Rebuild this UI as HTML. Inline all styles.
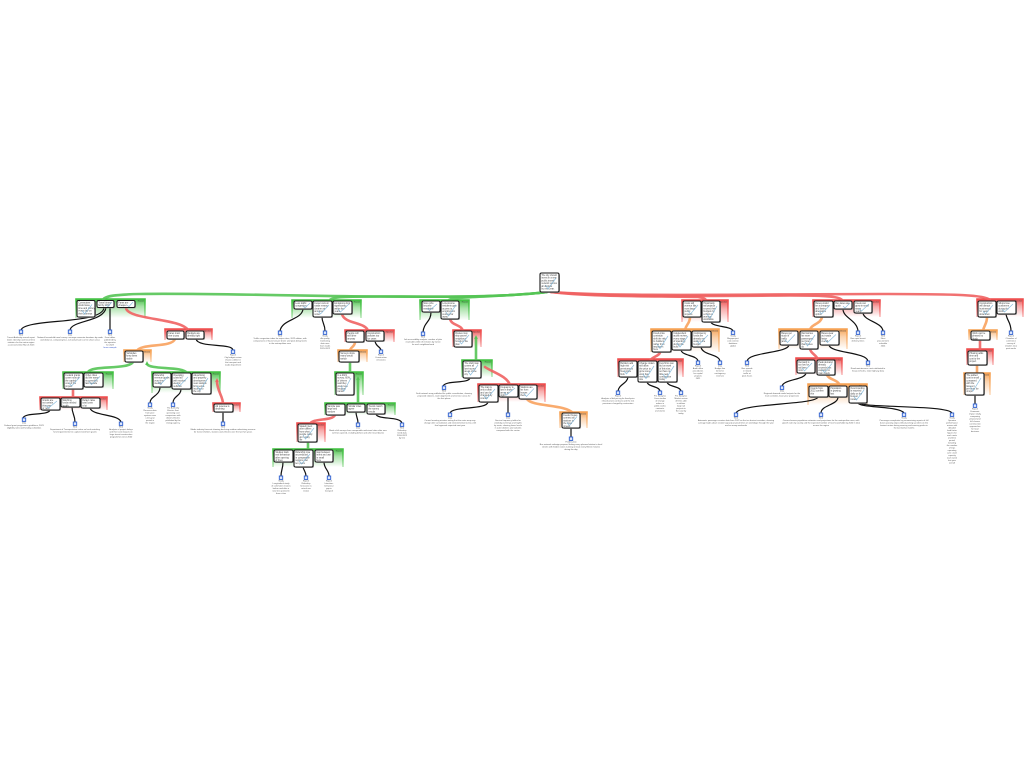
<!DOCTYPE html>
<html><head><meta charset="utf-8"><style>
html,body{margin:0;padding:0;background:#fff;width:1024px;height:768px;overflow:hidden}
svg{display:block}
.s{fill:#9a9a9a}
.b{fill:#fff;stroke:#1a1a1a;stroke-width:1.1}
.t{font-family:"Liberation Sans",sans-serif;font-size:2.3px;fill:#444}
.k{fill:none;stroke:#7ab4d8;stroke-width:.7;opacity:.85}
.gl{font-family:"Liberation Sans",sans-serif;font-size:1.8px;fill:#333;text-anchor:end}
.cg{fill:none;stroke:#55c455;stroke-width:2.6;stroke-linecap:round;opacity:.9}
.cr{fill:none;stroke:#f06262;stroke-width:2.6;stroke-linecap:round;opacity:.9}
.co{fill:none;stroke:#f8a25e;stroke-width:2.6;stroke-linecap:round;opacity:.9}
.ck{fill:none;stroke:#111;stroke-width:1.2;stroke-linecap:round}
.ic{fill:#dfe8fb;stroke:#2d5fcf;stroke-width:.9}
.lt{font-family:"Liberation Sans",sans-serif;font-size:2.1px;fill:#555;text-anchor:middle}
.ln{fill:#3355cc}
</style></head><body>
<svg width="1024" height="768" viewBox="0 0 1024 768" xmlns="http://www.w3.org/2000/svg">
<defs>
<linearGradient id="gg" x1="0" y1="0" x2="0" y2="1"><stop offset="0" stop-color="#3fbf3f" stop-opacity=".95"/><stop offset=".4" stop-color="#3fbf3f" stop-opacity=".45"/><stop offset="1" stop-color="#3fbf3f" stop-opacity="0"/></linearGradient>
<linearGradient id="gr" x1="0" y1="0" x2="0" y2="1"><stop offset="0" stop-color="#ee4a4a" stop-opacity=".95"/><stop offset=".4" stop-color="#ee4a4a" stop-opacity=".45"/><stop offset="1" stop-color="#ee4a4a" stop-opacity="0"/></linearGradient>
<linearGradient id="go" x1="0" y1="0" x2="0" y2="1"><stop offset="0" stop-color="#f6a050" stop-opacity=".95"/><stop offset=".4" stop-color="#f6a050" stop-opacity=".45"/><stop offset="1" stop-color="#f6a050" stop-opacity="0"/></linearGradient>
<linearGradient id="sg" x1="0" y1="0" x2="0" y2="1"><stop offset="0" stop-color="#3fbf3f"/><stop offset="1" stop-color="#3fbf3f" stop-opacity=".35"/></linearGradient>
<linearGradient id="sr" x1="0" y1="0" x2="0" y2="1"><stop offset="0" stop-color="#ee4a4a"/><stop offset="1" stop-color="#ee4a4a" stop-opacity=".35"/></linearGradient>
<linearGradient id="so" x1="0" y1="0" x2="0" y2="1"><stop offset="0" stop-color="#f6a050"/><stop offset="1" stop-color="#f6a050" stop-opacity=".35"/></linearGradient>
</defs>

<!-- ===== GROUP BACKGROUNDS ===== -->
<g>
<rect x="76" y="299" width="69" height="19" fill="url(#gg)"/><path d="M76,318V299H145V318" fill="none" stroke="url(#sg)" stroke-width="1.6"/><text class="gl" x="144" y="301.5">Reason</text>
<rect x="165" y="329" width="47" height="11" fill="url(#gr)"/><path d="M165,340V329H212V340" fill="none" stroke="url(#sr)" stroke-width="1.6"/><text class="gl" x="211" y="331.5">Objection</text>
<rect x="124" y="350" width="27" height="12" fill="url(#go)"/><path d="M124,362V350H151V362" fill="none" stroke="url(#so)" stroke-width="1.6"/><text class="gl" x="150" y="352.5">Rebuttal</text>
<rect x="63" y="372" width="50" height="17" fill="url(#gg)"/><path d="M63,389V372H113V389" fill="none" stroke="url(#sg)" stroke-width="1.6"/><text class="gl" x="112" y="374.5">Reason</text>
<rect x="152" y="372" width="68" height="21" fill="url(#gg)"/><path d="M152,393V372H220V393" fill="none" stroke="url(#sg)" stroke-width="1.6"/><text class="gl" x="219" y="374.5">Reason</text>
<rect x="40" y="397" width="67" height="13" fill="url(#gr)"/><path d="M40,410V397H107V410" fill="none" stroke="url(#sr)" stroke-width="1.6"/><text class="gl" x="106" y="399.5">Objection</text>
<rect x="213" y="403" width="27" height="9" fill="url(#gr)"/><path d="M213,412V403H240V412" fill="none" stroke="url(#sr)" stroke-width="1.6"/><text class="gl" x="239" y="405.5">Objection</text>
<rect x="292" y="300" width="69" height="18" fill="url(#gg)"/><path d="M292,318V300H361V318" fill="none" stroke="url(#sg)" stroke-width="1.6"/><text class="gl" x="360" y="302.5">Reason</text>
<rect x="345" y="330" width="49" height="12" fill="url(#gr)"/><path d="M345,342V330H394V342" fill="none" stroke="url(#sr)" stroke-width="1.6"/><text class="gl" x="393" y="332.5">Objection</text>
<rect x="338" y="350" width="29" height="12" fill="url(#go)"/><path d="M338,362V350H367V362" fill="none" stroke="url(#so)" stroke-width="1.6"/><text class="gl" x="366" y="352.5">Rebuttal</text>
<rect x="335" y="372" width="28" height="23" fill="url(#gg)"/><path d="M335,395V372H363V395" fill="none" stroke="url(#sg)" stroke-width="1.6"/><text class="gl" x="362" y="374.5">Reason</text>
<rect x="325" y="403" width="70" height="12" fill="url(#gg)"/><path d="M325,415V403H395V415" fill="none" stroke="url(#sg)" stroke-width="1.6"/><text class="gl" x="394" y="405.5">Reason</text>
<rect x="297" y="423" width="28" height="19" fill="url(#gr)"/><path d="M297,442V423H325V442" fill="none" stroke="url(#sr)" stroke-width="1.6"/><text class="gl" x="324" y="425.5">Objection</text>
<rect x="273" y="449" width="70" height="18" fill="url(#gg)"/><path d="M273,467V449H343V467" fill="none" stroke="url(#sg)" stroke-width="1.6"/><text class="gl" x="342" y="451.5">Reason</text>
<rect x="420" y="300" width="49" height="20" fill="url(#gg)"/><path d="M420,320V300H469V320" fill="none" stroke="url(#sg)" stroke-width="1.6"/><text class="gl" x="468" y="302.5">Reason</text>
<rect x="453" y="330" width="28" height="17" fill="url(#gr)"/><path d="M453,347V330H481V347" fill="none" stroke="url(#sr)" stroke-width="1.6"/><text class="gl" x="480" y="332.5">Objection</text>
<rect x="462" y="360" width="30" height="17" fill="url(#gg)"/><path d="M462,377V360H492V377" fill="none" stroke="url(#sg)" stroke-width="1.6"/><text class="gl" x="491" y="362.5">Reason</text>
<rect x="478" y="384" width="67" height="18" fill="url(#gr)"/><path d="M478,402V384H545V402" fill="none" stroke="url(#sr)" stroke-width="1.6"/><text class="gl" x="544" y="386.5">Objection</text>
<rect x="560" y="412" width="27" height="16" fill="url(#go)"/><path d="M560,428V412H587V428" fill="none" stroke="url(#so)" stroke-width="1.6"/><text class="gl" x="586" y="414.5">Rebuttal</text>
<rect x="682" y="300" width="46" height="22" fill="url(#gr)"/><path d="M682,322V300H728V322" fill="none" stroke="url(#sr)" stroke-width="1.6"/><text class="gl" x="727" y="302.5">Objection</text>
<rect x="651" y="329" width="68" height="23" fill="url(#go)"/><path d="M651,352V329H719V352" fill="none" stroke="url(#so)" stroke-width="1.6"/><text class="gl" x="718" y="331.5">Rebuttal</text>
<rect x="618" y="359" width="65" height="18" fill="url(#gr)"/><path d="M618,377V359H683V377" fill="none" stroke="url(#sr)" stroke-width="1.6"/><text class="gl" x="682" y="361.5">Objection</text>
<rect x="813" y="300" width="67" height="17" fill="url(#gr)"/><path d="M813,317V300H880V317" fill="none" stroke="url(#sr)" stroke-width="1.6"/><text class="gl" x="879" y="302.5">Objection</text>
<rect x="779" y="329" width="68" height="20" fill="url(#go)"/><path d="M779,349V329H847V349" fill="none" stroke="url(#so)" stroke-width="1.6"/><text class="gl" x="846" y="331.5">Rebuttal</text>
<rect x="796" y="358" width="46" height="17" fill="url(#gr)"/><path d="M796,375V358H842V375" fill="none" stroke="url(#sr)" stroke-width="1.6"/><text class="gl" x="841" y="360.5">Objection</text>
<rect x="808" y="384" width="59" height="21" fill="url(#go)"/><path d="M808,405V384H867V405" fill="none" stroke="url(#so)" stroke-width="1.6"/><text class="gl" x="866" y="386.5">Rebuttal</text>
<rect x="977" y="299" width="46" height="18" fill="url(#gr)"/><path d="M977,317V299H1023V317" fill="none" stroke="url(#sr)" stroke-width="1.6"/><text class="gl" x="1022" y="301.5">Objection</text>
<rect x="969" y="330" width="28" height="10" fill="url(#go)"/><path d="M969,340V330H997V340" fill="none" stroke="url(#so)" stroke-width="1.6"/><text class="gl" x="996" y="332.5">Rebuttal</text>
<rect x="967" y="349" width="26" height="16" fill="url(#gr)"/><path d="M967,365V349H993V365" fill="none" stroke="url(#sr)" stroke-width="1.6"/><text class="gl" x="992" y="351.5">Objection</text>
<rect x="964" y="373" width="26" height="22" fill="url(#go)"/><path d="M964,395V373H990V395" fill="none" stroke="url(#so)" stroke-width="1.6"/><text class="gl" x="989" y="375.5">Rebuttal</text>
</g>

<!-- ===== COLOURED CONNECTORS ===== -->
<g>
<path class="cg" d="M547,292 C500,298 420,296.5 380,296.5 C300,296 200,293 140,294 C115,294.5 104,296 103,300"/>
<path class="cg" d="M547,292 C500,298 420,296.5 380,296.5 C345,296.5 332,297 330,300"/>
<path class="cg" d="M547,292 C510,297 455,296 449,300"/>
<path class="cr" d="M551,292 C590,297 660,296 698,297 C704,298 705,299 706,300"/>
<path class="cr" d="M551,292 C600,297 700,296 790,295.5 C830,295.5 840,297 842,300"/>
<path class="cr" d="M551,292 C620,297 760,294 880,294 C960,294 985,295 990,300"/>

<path class="cr" d="M126,308 C128,320 180,318 188,330"/>
<path class="co" d="M175,339 C172,348 140,343 137,351"/>
<path class="cg" d="M133,362 C128,370 92,365 88,372"/>
<path class="cg" d="M147,364 C150,370 183,366 187,373"/>
<polygon points="147,361 145.2,365 148.8,365" fill="#55c455"/>
<path class="cr" d="M73,389 V398"/>
<path class="cr" d="M217,381 C217,391 223,396 223,404"/>
<polygon points="217,378 215.2,382 218.8,382" fill="#f06262"/>
<path class="cr" d="M342,314 C344,324 366,322 368,331"/>
<path class="co" d="M355,342 C355,347 350,347 350,351"/>
<path class="cg" d="M350,362 V373"/>
<path class="cg" d="M358,379 V404"/>
<polygon points="358,376 356.2,380 359.8,380" fill="#55c455"/>
<path class="cr" d="M335,415 C333,421 312,418 310,424"/>
<path class="cg" d="M308,442 V450"/>
<path class="cr" d="M450,319 C452,326 461,324 463,331"/>
<path class="cg" d="M476,338 V361"/>
<polygon points="476,335 474.2,339 477.8,339" fill="#55c455"/>
<path class="cr" d="M485,367 C492,372 507,376 510,385"/>
<path class="co" d="M527,399 C532,407 565,404 573,413"/>
<path class="co" d="M690,317 C690,324 686,324 685,330"/>
<path class="cr" d="M660,352 C660,356 651,357 650,361"/>
<path class="co" d="M822,317 C821,324 811,324 810,330"/>
<path class="cr" d="M810,349 C811,354 817,355 818,360"/>
<path class="co" d="M827,375 C829,380 838,379 840,386"/>
<path class="co" d="M987,317 C987,324 984,325 983,331"/>
<path class="cr" d="M980,340 V351"/>
<path class="co" d="M977,365 V373"/>
</g>

<!-- ===== BLACK CONNECTORS ===== -->
<g>
<path class="ck" d="M104,307.5 C103,325 25,318 21,330"/>
<path class="ck" d="M106,307.5 C104,322 72,320 70,330"/>
<path class="ck" d="M110,307.5 V330"/>
<path class="ck" d="M196,339 C198,348 232,343 233,350"/>
<path class="ck" d="M50,410 C48,416 25,412 23,418"/>
<path class="ck" d="M72,407 C72,414 75,415 75,422"/>
<path class="ck" d="M90,408 C92,416 119,414 121,422"/>
<path class="ck" d="M160,387 C160,396 150,396 150,403"/>
<path class="ck" d="M181,389 C181,396 173,396 173,403"/>
<path class="ck" d="M223,412 V422"/>
<path class="ck" d="M303,309 C302,320 282,319 280,331"/>
<path class="ck" d="M322,317 C322,323 325,324 325,331"/>
<path class="ck" d="M375,341 C376,347 380,346 381,350"/>
<path class="ck" d="M356,412 C356,417 358,418 358,423"/>
<path class="ck" d="M376,414 C377,420 400,416 402,423"/>
<path class="ck" d="M283,462 C283,469 281,470 281,476"/>
<path class="ck" d="M303,467 C304,471 306,472 306,476"/>
<path class="ck" d="M324,462 C324,469 329,470 329,476"/>
<path class="ck" d="M431,312 C431,322 424,322 423,332"/>
<path class="ck" d="M470,378 C468,384 446,380 443,386"/>
<path class="ck" d="M488,402 C487,410 452,406 450,413"/>
<path class="ck" d="M508,397 V413"/>
<path class="ck" d="M571,428 V437"/>
<path class="ck" d="M711,322 C712,327 732,326 733,331"/>
<path class="ck" d="M681,350 C682,356 697,355 698,361"/>
<path class="ck" d="M701,347 C702,355 719,354 720,361"/>
<path class="ck" d="M628,377 C627,384 619,384 618,391"/>
<path class="ck" d="M647,382 C648,387 659,386 660,391"/>
<path class="ck" d="M667,382 C668,387 680,386 681,391"/>
<path class="ck" d="M843,309 C843,318 857,320 858,331"/>
<path class="ck" d="M863,313 C864,321 882,322 883,331"/>
<path class="ck" d="M789,345 C788,353 749,352 747,361"/>
<path class="ck" d="M829,345 C830,353 866,352 868,361"/>
<path class="ck" d="M806,373 C805,380 784,379 782,386"/>
<path class="ck" d="M818,397 C816,405 740,403 736,413"/>
<path class="ck" d="M838,397 C838,405 821,405 821,413"/>
<path class="ck" d="M858,403 C860,408 900,406 904,413"/>
<path class="ck" d="M860,403 C865,408 948,405 952,413"/>
<path class="ck" d="M1006,314 C1007,321 1011,322 1011,331"/>
<path class="ck" d="M975,395 V404"/>
</g>

<!-- ===== BOXES ===== -->
<g>
<g transform="translate(540,273)"><rect class="s" x=".9" y=".9" width="19" height="19" rx="1.5"/><rect class="b" width="19" height="19" rx="1.5"/><text class="t"><tspan x="1.4" y="3">The city should</tspan><tspan x="1.4" dy="2.7">invest in a new</tspan><tspan x="1.4" dy="2.7">public transit</tspan><tspan x="1.4" dy="2.7">network across</tspan><tspan x="1.4" dy="2.7">all districts</tspan><tspan x="1.4" dy="2.7">by next year.</tspan></text><path class="k" d="M5.5,12 8,16 16,5"/></g>

<g transform="translate(77,300.5)"><rect class="s" x=".9" y=".9" width="18" height="16.5" rx="1.5"/><rect class="b" width="18" height="16.5" rx="1.5"/><text class="t"><tspan x="1.4" y="3">Commuters</tspan><tspan x="1.4" dy="2.7">would save</tspan><tspan x="1.4" dy="2.7">time and money</tspan><tspan x="1.4" dy="2.7">every day on</tspan><tspan x="1.4" dy="2.7">their journeys</tspan></text><path class="k" d="M5,10 7.5,13.5 15,4"/></g>
<g transform="translate(97,300.5)"><rect class="s" x=".9" y=".9" width="17" height="7" rx="1.5"/><rect class="b" width="17" height="7" rx="1.5"/><text class="t"><tspan x="1.4" y="3">Travel times</tspan><tspan x="1.4" dy="2.7">fall by 20%</tspan></text><path class="k" d="M9,4.5 11,6 15,1.5"/></g>
<g transform="translate(117,300.5)"><rect class="s" x=".9" y=".9" width="18" height="7" rx="1.5"/><rect class="b" width="18" height="7" rx="1.5"/><text class="t"><tspan x="1.4" y="3">Fares are</tspan><tspan x="1.4" dy="2.7">cheaper</tspan></text><path class="k" d="M10,4.5 12,6 16,1.5"/></g>

<g transform="translate(167,331)"><rect class="s" x=".9" y=".9" width="17" height="8" rx="1.5"/><rect class="b" width="17" height="8" rx="1.5"/><text class="t"><tspan x="1.4" y="3">Fares must</tspan><tspan x="1.4" dy="2.7">rise to pay</tspan></text></g>
<g transform="translate(186,331)"><rect class="s" x=".9" y=".9" width="18" height="8" rx="1.5"/><rect class="b" width="18" height="8" rx="1.5"/><text class="t"><tspan x="1.4" y="3">Budgets are</tspan><tspan x="1.4" dy="2.7">already tight</tspan></text></g>
<g transform="translate(125,351)"><rect class="s" x=".9" y=".9" width="18" height="11" rx="1.5"/><rect class="b" width="18" height="11" rx="1.5"/><text class="t"><tspan x="1.4" y="3">Subsidies</tspan><tspan x="1.4" dy="2.7">keep fares</tspan><tspan x="1.4" dy="2.7">stable</tspan></text></g>

<g transform="translate(64,373)"><rect class="s" x=".9" y=".9" width="19" height="16" rx="1.5"/><rect class="b" width="19" height="16" rx="1.5"/><text class="t"><tspan x="1.4" y="3">Federal grants</tspan><tspan x="1.4" dy="2.7">cover most of</tspan><tspan x="1.4" dy="2.7">the capital</tspan><tspan x="1.4" dy="2.7">cost of the</tspan><tspan x="1.4" dy="2.7">project</tspan></text><path class="k" d="M5,10 7.5,13 16,4"/></g>
<g transform="translate(84,373)"><rect class="s" x=".9" y=".9" width="19" height="14" rx="1.5"/><rect class="b" width="19" height="14" rx="1.5"/><text class="t"><tspan x="1.4" y="3">Other cities</tspan><tspan x="1.4" dy="2.7">did the same</tspan><tspan x="1.4" dy="2.7">successfully</tspan><tspan x="1.4" dy="2.7">last decade</tspan></text><path class="k" d="M5,8.5 7.5,11.5 16,3.5"/></g>

<g transform="translate(153,373)"><rect class="s" x=".9" y=".9" width="18" height="14" rx="1.5"/><rect class="b" width="18" height="14" rx="1.5"/><text class="t"><tspan x="1.4" y="3">Ridership</tspan><tspan x="1.4" dy="2.7">revenue grows</tspan><tspan x="1.4" dy="2.7">over time</tspan><tspan x="1.4" dy="2.7">steadily</tspan></text><path class="k" d="M5,8.5 7.5,11.5 15,3.5"/></g>
<g transform="translate(172,373)"><rect class="s" x=".9" y=".9" width="19" height="16" rx="1.5"/><rect class="b" width="19" height="16" rx="1.5"/><text class="t"><tspan x="1.4" y="3">Operating</tspan><tspan x="1.4" dy="2.7">costs fall</tspan><tspan x="1.4" dy="2.7">with modern</tspan><tspan x="1.4" dy="2.7">electric</tspan><tspan x="1.4" dy="2.7">vehicles</tspan></text><path class="k" d="M5,10 7.5,13 16,4"/></g>
<g transform="translate(192,373)"><rect class="s" x=".9" y=".9" width="19" height="21" rx="1.5"/><rect class="b" width="19" height="21" rx="1.5"/><text class="t"><tspan x="1.4" y="3">Advertising</tspan><tspan x="1.4" dy="2.7">and property</tspan><tspan x="1.4" dy="2.7">development</tspan><tspan x="1.4" dy="2.7">near stations</tspan><tspan x="1.4" dy="2.7">bring extra</tspan><tspan x="1.4" dy="2.7">income to</tspan><tspan x="1.4" dy="2.7">the city</tspan></text><path class="k" d="M5,13 8,17.5 16,5"/></g>

<g transform="translate(41,398)"><rect class="s" x=".9" y=".9" width="19" height="12" rx="1.5"/><rect class="b" width="19" height="12" rx="1.5"/><text class="t"><tspan x="1.4" y="3">Grants are</tspan><tspan x="1.4" dy="2.7">not certain</tspan><tspan x="1.4" dy="2.7">this year</tspan><tspan x="1.4" dy="2.7">or next</tspan></text><path class="k" d="M5,7.5 7.5,10 16,3"/></g>
<g transform="translate(61,398)"><rect class="s" x=".9" y=".9" width="19" height="9" rx="1.5"/><rect class="b" width="19" height="9" rx="1.5"/><text class="t"><tspan x="1.4" y="3">Matching</tspan><tspan x="1.4" dy="2.7">funds needed</tspan><tspan x="1.4" dy="2.7">locally</tspan></text></g>
<g transform="translate(81,398)"><rect class="s" x=".9" y=".9" width="19" height="10" rx="1.5"/><rect class="b" width="19" height="10" rx="1.5"/><text class="t"><tspan x="1.4" y="3">Delays raise</tspan><tspan x="1.4" dy="2.7">total costs</tspan><tspan x="1.4" dy="2.7">a lot</tspan></text></g>
<g transform="translate(214,404)"><rect class="s" x=".9" y=".9" width="19" height="8" rx="1.5"/><rect class="b" width="19" height="8" rx="1.5"/><text class="t"><tspan x="1.4" y="3">Ad revenue is</tspan><tspan x="1.4" dy="2.7">declining</tspan></text></g>

<g transform="translate(294,301)"><rect class="s" x=".9" y=".9" width="18" height="8" rx="1.5"/><rect class="b" width="18" height="8" rx="1.5"/><text class="t"><tspan x="1.4" y="3">Less traffic</tspan><tspan x="1.4" dy="2.7">congestion</tspan></text><path class="k" d="M9,5 11,7 16,2"/></g>
<g transform="translate(313,301)"><rect class="s" x=".9" y=".9" width="19" height="16" rx="1.5"/><rect class="b" width="19" height="16" rx="1.5"/><text class="t"><tspan x="1.4" y="3">Fewer cars on</tspan><tspan x="1.4" dy="2.7">roads means</tspan><tspan x="1.4" dy="2.7">cleaner air</tspan><tspan x="1.4" dy="2.7">and less</tspan><tspan x="1.4" dy="2.7">noise</tspan></text><path class="k" d="M5,10 7.5,13 16,4"/></g>
<g transform="translate(333,301)"><rect class="s" x=".9" y=".9" width="19" height="13" rx="1.5"/><rect class="b" width="19" height="13" rx="1.5"/><text class="t"><tspan x="1.4" y="3">Emissions drop</tspan><tspan x="1.4" dy="2.7">significantly</tspan><tspan x="1.4" dy="2.7">within five</tspan><tspan x="1.4" dy="2.7">years</tspan></text><path class="k" d="M5,8 7.5,11 16,3"/></g>
<g transform="translate(346,331)"><rect class="s" x=".9" y=".9" width="18" height="11" rx="1.5"/><rect class="b" width="18" height="11" rx="1.5"/><text class="t"><tspan x="1.4" y="3">People will</tspan><tspan x="1.4" dy="2.7">still drive</tspan><tspan x="1.4" dy="2.7">anyway</tspan></text></g>
<g transform="translate(366,331)"><rect class="s" x=".9" y=".9" width="18" height="10" rx="1.5"/><rect class="b" width="18" height="10" rx="1.5"/><text class="t"><tspan x="1.4" y="3">Construction</tspan><tspan x="1.4" dy="2.7">pollutes too</tspan><tspan x="1.4" dy="2.7">for years</tspan></text></g>
<g transform="translate(339,351)"><rect class="s" x=".9" y=".9" width="20" height="11" rx="1.5"/><rect class="b" width="20" height="11" rx="1.5"/><text class="t"><tspan x="1.4" y="3">Surveys show</tspan><tspan x="1.4" dy="2.7">many would</tspan><tspan x="1.4" dy="2.7">switch</tspan></text></g>
<g transform="translate(336,373)"><rect class="s" x=".9" y=".9" width="18" height="22" rx="1.5"/><rect class="b" width="18" height="22" rx="1.5"/><text class="t"><tspan x="1.4" y="3">In a 2021</tspan><tspan x="1.4" dy="2.7">survey, 60%</tspan><tspan x="1.4" dy="2.7">of drivers</tspan><tspan x="1.4" dy="2.7">said they</tspan><tspan x="1.4" dy="2.7">would use</tspan><tspan x="1.4" dy="2.7">frequent</tspan><tspan x="1.4" dy="2.7">transit</tspan></text><path class="k" d="M5,13 8,18 15,5"/></g>
<g transform="translate(326,404)"><rect class="s" x=".9" y=".9" width="19" height="11" rx="1.5"/><rect class="b" width="19" height="11" rx="1.5"/><text class="t"><tspan x="1.4" y="3">Sample was</tspan><tspan x="1.4" dy="2.7">large and</tspan><tspan x="1.4" dy="2.7">random</tspan></text></g>
<g transform="translate(347,404)"><rect class="s" x=".9" y=".9" width="18" height="8" rx="1.5"/><rect class="b" width="18" height="8" rx="1.5"/><text class="t"><tspan x="1.4" y="3">Similar cities</tspan><tspan x="1.4" dy="2.7">agree</tspan></text></g>
<g transform="translate(367,404)"><rect class="s" x=".9" y=".9" width="18" height="10" rx="1.5"/><rect class="b" width="18" height="10" rx="1.5"/><text class="t"><tspan x="1.4" y="3">Trends match</tspan><tspan x="1.4" dy="2.7">the survey</tspan><tspan x="1.4" dy="2.7">results</tspan></text></g>
<g transform="translate(298,424)"><rect class="s" x=".9" y=".9" width="19" height="18" rx="1.5"/><rect class="b" width="19" height="18" rx="1.5"/><text class="t"><tspan x="1.4" y="3">Stated intent</tspan><tspan x="1.4" dy="2.7">often differs</tspan><tspan x="1.4" dy="2.7">from what</tspan><tspan x="1.4" dy="2.7">people really</tspan><tspan x="1.4" dy="2.7">do in daily</tspan><tspan x="1.4" dy="2.7">life</tspan></text><path class="k" d="M5,11 7.5,15 16,4"/></g>
<g transform="translate(274,450)"><rect class="s" x=".9" y=".9" width="19" height="12" rx="1.5"/><rect class="b" width="19" height="12" rx="1.5"/><text class="t"><tspan x="1.4" y="3">Studies track</tspan><tspan x="1.4" dy="2.7">real behaviour</tspan><tspan x="1.4" dy="2.7">after opening</tspan><tspan x="1.4" dy="2.7">of lines</tspan></text></g>
<g transform="translate(294,450)"><rect class="s" x=".9" y=".9" width="19" height="17" rx="1.5"/><rect class="b" width="19" height="17" rx="1.5"/><text class="t"><tspan x="1.4" y="3">Ridership rose</tspan><tspan x="1.4" dy="2.7">as predicted</tspan><tspan x="1.4" dy="2.7">in comparable</tspan><tspan x="1.4" dy="2.7">regions over</tspan><tspan x="1.4" dy="2.7">ten years</tspan></text><path class="k" d="M5,10.5 7.5,14 16,4"/></g>
<g transform="translate(315,450)"><rect class="s" x=".9" y=".9" width="18" height="12" rx="1.5"/><rect class="b" width="18" height="12" rx="1.5"/><text class="t"><tspan x="1.4" y="3">Gap between</tspan><tspan x="1.4" dy="2.7">intent and use</tspan><tspan x="1.4" dy="2.7">is small</tspan><tspan x="1.4" dy="2.7">here</tspan></text></g>

<g transform="translate(422,301)"><rect class="s" x=".9" y=".9" width="18" height="11" rx="1.5"/><rect class="b" width="18" height="11" rx="1.5"/><text class="t"><tspan x="1.4" y="3">More jobs</tspan><tspan x="1.4" dy="2.7">become</tspan><tspan x="1.4" dy="2.7">reachable</tspan></text><path class="k" d="M5,7 7.5,9.5 15,3"/></g>
<g transform="translate(441,301)"><rect class="s" x=".9" y=".9" width="18" height="18" rx="1.5"/><rect class="b" width="18" height="18" rx="1.5"/><text class="t"><tspan x="1.4" y="3">Low-income</tspan><tspan x="1.4" dy="2.7">residents gain</tspan><tspan x="1.4" dy="2.7">access to</tspan><tspan x="1.4" dy="2.7">employment</tspan><tspan x="1.4" dy="2.7">centres far</tspan><tspan x="1.4" dy="2.7">away</tspan></text><path class="k" d="M5,11 7.5,15 15,4"/></g>
<g transform="translate(454,331)"><rect class="s" x=".9" y=".9" width="18" height="16" rx="1.5"/><rect class="b" width="18" height="16" rx="1.5"/><text class="t"><tspan x="1.4" y="3">Routes may</tspan><tspan x="1.4" dy="2.7">skip poorer</tspan><tspan x="1.4" dy="2.7">neighbour-</tspan><tspan x="1.4" dy="2.7">hoods in the</tspan><tspan x="1.4" dy="2.7">plan</tspan></text><path class="k" d="M5,10 7.5,13 15,4"/></g>
<g transform="translate(463,361)"><rect class="s" x=".9" y=".9" width="18" height="17" rx="1.5"/><rect class="b" width="18" height="17" rx="1.5"/><text class="t"><tspan x="1.4" y="3">The draft map</tspan><tspan x="1.4" dy="2.7">covers all</tspan><tspan x="1.4" dy="2.7">low-income</tspan><tspan x="1.4" dy="2.7">areas of the</tspan><tspan x="1.4" dy="2.7">city</tspan></text><path class="k" d="M5,10.5 7.5,14 15,4"/></g>
<g transform="translate(479,385)"><rect class="s" x=".9" y=".9" width="19" height="17" rx="1.5"/><rect class="b" width="19" height="17" rx="1.5"/><text class="t"><tspan x="1.4" y="3">The map is</tspan><tspan x="1.4" dy="2.7">only a draft</tspan><tspan x="1.4" dy="2.7">and can be</tspan><tspan x="1.4" dy="2.7">changed by</tspan><tspan x="1.4" dy="2.7">council</tspan></text><path class="k" d="M5,10.5 7.5,14 16,4"/></g>
<g transform="translate(499,385)"><rect class="s" x=".9" y=".9" width="19" height="12" rx="1.5"/><rect class="b" width="19" height="12" rx="1.5"/><text class="t"><tspan x="1.4" y="3">Frequency is</tspan><tspan x="1.4" dy="2.7">low in those</tspan><tspan x="1.4" dy="2.7">areas at</tspan><tspan x="1.4" dy="2.7">night</tspan></text><path class="k" d="M5,7.5 7.5,10 16,3"/></g>
<g transform="translate(519,385)"><rect class="s" x=".9" y=".9" width="18" height="14" rx="1.5"/><rect class="b" width="18" height="14" rx="1.5"/><text class="t"><tspan x="1.4" y="3">Stations are</tspan><tspan x="1.4" dy="2.7">far from</tspan><tspan x="1.4" dy="2.7">homes</tspan><tspan x="1.4" dy="2.7">there</tspan></text><path class="k" d="M5,8.5 7.5,11.5 15,3.5"/></g>
<g transform="translate(562,413)"><rect class="s" x=".9" y=".9" width="18" height="15" rx="1.5"/><rect class="b" width="18" height="15" rx="1.5"/><text class="t"><tspan x="1.4" y="3">Feeder buses</tspan><tspan x="1.4" dy="2.7">connect all</tspan><tspan x="1.4" dy="2.7">stations to</tspan><tspan x="1.4" dy="2.7">the local</tspan><tspan x="1.4" dy="2.7">streets</tspan></text><path class="k" d="M5,9.5 7.5,12.5 15,3.5"/></g>

<g transform="translate(683,301)"><rect class="s" x=".9" y=".9" width="18" height="16" rx="1.5"/><rect class="b" width="18" height="16" rx="1.5"/><text class="t"><tspan x="1.4" y="3">Costs will</tspan><tspan x="1.4" dy="2.7">overrun like</tspan><tspan x="1.4" dy="2.7">most large</tspan><tspan x="1.4" dy="2.7">public</tspan><tspan x="1.4" dy="2.7">projects</tspan></text><path class="k" d="M5,10 7.5,13 15,4"/></g>
<g transform="translate(702,301)"><rect class="s" x=".9" y=".9" width="18" height="21" rx="1.5"/><rect class="b" width="18" height="21" rx="1.5"/><text class="t"><tspan x="1.4" y="3">Historically,</tspan><tspan x="1.4" dy="2.7">rail projects</tspan><tspan x="1.4" dy="2.7">exceed their</tspan><tspan x="1.4" dy="2.7">budgets by</tspan><tspan x="1.4" dy="2.7">a third on</tspan><tspan x="1.4" dy="2.7">average</tspan><tspan x="1.4" dy="2.7">worldwide</tspan></text><path class="k" d="M5,13 8,17.5 15,5"/></g>
<g transform="translate(652,331)"><rect class="s" x=".9" y=".9" width="19" height="21" rx="1.5"/><rect class="b" width="19" height="21" rx="1.5"/><text class="t"><tspan x="1.4" y="3">Fixed-price</tspan><tspan x="1.4" dy="2.7">contracts</tspan><tspan x="1.4" dy="2.7">shift the risk</tspan><tspan x="1.4" dy="2.7">to builders</tspan><tspan x="1.4" dy="2.7">rather than</tspan><tspan x="1.4" dy="2.7">taxpayers</tspan><tspan x="1.4" dy="2.7">here</tspan></text><path class="k" d="M5,13 8,17.5 16,5"/></g>
<g transform="translate(672,331)"><rect class="s" x=".9" y=".9" width="19" height="19" rx="1.5"/><rect class="b" width="19" height="19" rx="1.5"/><text class="t"><tspan x="1.4" y="3">Independent</tspan><tspan x="1.4" dy="2.7">audits review</tspan><tspan x="1.4" dy="2.7">every stage</tspan><tspan x="1.4" dy="2.7">of spending</tspan><tspan x="1.4" dy="2.7">during the</tspan><tspan x="1.4" dy="2.7">build</tspan></text><path class="k" d="M5,12 8,16 16,5"/></g>
<g transform="translate(692,331)"><rect class="s" x=".9" y=".9" width="19" height="16" rx="1.5"/><rect class="b" width="19" height="16" rx="1.5"/><text class="t"><tspan x="1.4" y="3">Contingency</tspan><tspan x="1.4" dy="2.7">funds are</tspan><tspan x="1.4" dy="2.7">already set</tspan><tspan x="1.4" dy="2.7">aside in the</tspan><tspan x="1.4" dy="2.7">budget</tspan></text><path class="k" d="M5,10 7.5,13 16,4"/></g>
<g transform="translate(619,361)"><rect class="s" x=".9" y=".9" width="18" height="16" rx="1.5"/><rect class="b" width="18" height="16" rx="1.5"/><text class="t"><tspan x="1.4" y="3">Builders add</tspan><tspan x="1.4" dy="2.7">high risk</tspan><tspan x="1.4" dy="2.7">premiums to</tspan><tspan x="1.4" dy="2.7">fixed-price</tspan><tspan x="1.4" dy="2.7">bids</tspan></text><path class="k" d="M5,10 7.5,13 15,4"/></g>
<g transform="translate(638,361)"><rect class="s" x=".9" y=".9" width="19" height="21" rx="1.5"/><rect class="b" width="19" height="21" rx="1.5"/><text class="t"><tspan x="1.4" y="3">Change orders</tspan><tspan x="1.4" dy="2.7">still allow</tspan><tspan x="1.4" dy="2.7">the price to</tspan><tspan x="1.4" dy="2.7">grow once</tspan><tspan x="1.4" dy="2.7">work has</tspan><tspan x="1.4" dy="2.7">started on</tspan><tspan x="1.4" dy="2.7">site</tspan></text><path class="k" d="M5,13 8,17.5 16,5"/></g>
<g transform="translate(658,361)"><rect class="s" x=".9" y=".9" width="19" height="21" rx="1.5"/><rect class="b" width="19" height="21" rx="1.5"/><text class="t"><tspan x="1.4" y="3">Few firms can</tspan><tspan x="1.4" dy="2.7">bid on work</tspan><tspan x="1.4" dy="2.7">of this size,</tspan><tspan x="1.4" dy="2.7">so there is</tspan><tspan x="1.4" dy="2.7">little real</tspan><tspan x="1.4" dy="2.7">competition</tspan><tspan x="1.4" dy="2.7">today</tspan></text><path class="k" d="M5,13 8,17.5 16,5"/></g>

<g transform="translate(814,301)"><rect class="s" x=".9" y=".9" width="19" height="16" rx="1.5"/><rect class="b" width="19" height="16" rx="1.5"/><text class="t"><tspan x="1.4" y="3">Buses would</tspan><tspan x="1.4" dy="2.7">be a cheaper</tspan><tspan x="1.4" dy="2.7">and faster</tspan><tspan x="1.4" dy="2.7">alternative</tspan><tspan x="1.4" dy="2.7">option</tspan></text><path class="k" d="M5,10 7.5,13 16,4"/></g>
<g transform="translate(834,301)"><rect class="s" x=".9" y=".9" width="18" height="8" rx="1.5"/><rect class="b" width="18" height="8" rx="1.5"/><text class="t"><tspan x="1.4" y="3">Bus lanes are</tspan><tspan x="1.4" dy="2.7">quick</tspan></text><path class="k" d="M9,5 11,7 16,2"/></g>
<g transform="translate(854,301)"><rect class="s" x=".9" y=".9" width="18" height="12" rx="1.5"/><rect class="b" width="18" height="12" rx="1.5"/><text class="t"><tspan x="1.4" y="3">Fleets can</tspan><tspan x="1.4" dy="2.7">grow in small</tspan><tspan x="1.4" dy="2.7">steps</tspan><tspan x="1.4" dy="2.7">yearly</tspan></text><path class="k" d="M5,7.5 7.5,10 15,3"/></g>
<g transform="translate(780,331)"><rect class="s" x=".9" y=".9" width="18" height="14" rx="1.5"/><rect class="b" width="18" height="14" rx="1.5"/><text class="t"><tspan x="1.4" y="3">Buses get</tspan><tspan x="1.4" dy="2.7">stuck in</tspan><tspan x="1.4" dy="2.7">traffic</tspan><tspan x="1.4" dy="2.7">jams</tspan></text><path class="k" d="M5,8.5 7.5,11.5 15,3.5"/></g>
<g transform="translate(800,331)"><rect class="s" x=".9" y=".9" width="18" height="18" rx="1.5"/><rect class="b" width="18" height="18" rx="1.5"/><text class="t"><tspan x="1.4" y="3">Rail carries</tspan><tspan x="1.4" dy="2.7">far more</tspan><tspan x="1.4" dy="2.7">passengers</tspan><tspan x="1.4" dy="2.7">per hour</tspan><tspan x="1.4" dy="2.7">than buses</tspan><tspan x="1.4" dy="2.7">do</tspan></text><path class="k" d="M5,11 7.5,15 15,4"/></g>
<g transform="translate(820,331)"><rect class="s" x=".9" y=".9" width="19" height="14" rx="1.5"/><rect class="b" width="19" height="14" rx="1.5"/><text class="t"><tspan x="1.4" y="3">Buses wear</tspan><tspan x="1.4" dy="2.7">out roads</tspan><tspan x="1.4" dy="2.7">faster</tspan><tspan x="1.4" dy="2.7">overall</tspan></text><path class="k" d="M5,8.5 7.5,11.5 16,3.5"/></g>
<g transform="translate(797,360)"><rect class="s" x=".9" y=".9" width="18" height="13" rx="1.5"/><rect class="b" width="18" height="13" rx="1.5"/><text class="t"><tspan x="1.4" y="3">Demand is</tspan><tspan x="1.4" dy="2.7">too low for</tspan><tspan x="1.4" dy="2.7">rail here</tspan><tspan x="1.4" dy="2.7">now</tspan></text><path class="k" d="M5,8 7.5,11 15,3"/></g>
<g transform="translate(817,360)"><rect class="s" x=".9" y=".9" width="18" height="15" rx="1.5"/><rect class="b" width="18" height="15" rx="1.5"/><text class="t"><tspan x="1.4" y="3">Peak demand</tspan><tspan x="1.4" dy="2.7">already</tspan><tspan x="1.4" dy="2.7">exceeds bus</tspan><tspan x="1.4" dy="2.7">capacity on</tspan><tspan x="1.4" dy="2.7">main roads</tspan></text><path class="k" d="M5,9.5 7.5,12.5 15,3.5"/></g>
<g transform="translate(809,386)"><rect class="s" x=".9" y=".9" width="19" height="11" rx="1.5"/><rect class="b" width="19" height="11" rx="1.5"/><text class="t"><tspan x="1.4" y="3">Counts from</tspan><tspan x="1.4" dy="2.7">2022 confirm</tspan><tspan x="1.4" dy="2.7">this</tspan></text></g>
<g transform="translate(829,386)"><rect class="s" x=".9" y=".9" width="18" height="11" rx="1.5"/><rect class="b" width="18" height="11" rx="1.5"/><text class="t"><tspan x="1.4" y="3">Population</tspan><tspan x="1.4" dy="2.7">is growing</tspan><tspan x="1.4" dy="2.7">fast</tspan></text></g>
<g transform="translate(849,386)"><rect class="s" x=".9" y=".9" width="18" height="17" rx="1.5"/><rect class="b" width="18" height="17" rx="1.5"/><text class="t"><tspan x="1.4" y="3">Overcrowding</tspan><tspan x="1.4" dy="2.7">is reported</tspan><tspan x="1.4" dy="2.7">daily on the</tspan><tspan x="1.4" dy="2.7">busiest</tspan><tspan x="1.4" dy="2.7">routes</tspan></text><path class="k" d="M5,10.5 7.5,14 15,4"/></g>

<g transform="translate(978,301)"><rect class="s" x=".9" y=".9" width="18" height="16" rx="1.5"/><rect class="b" width="18" height="16" rx="1.5"/><text class="t"><tspan x="1.4" y="3">Construction</tspan><tspan x="1.4" dy="2.7">will disrupt</tspan><tspan x="1.4" dy="2.7">businesses</tspan><tspan x="1.4" dy="2.7">for years</tspan><tspan x="1.4" dy="2.7">downtown</tspan></text><path class="k" d="M5,10 7.5,13 15,4"/></g>
<g transform="translate(997,301)"><rect class="s" x=".9" y=".9" width="19" height="13" rx="1.5"/><rect class="b" width="19" height="13" rx="1.5"/><text class="t"><tspan x="1.4" y="3">Shops lose</tspan><tspan x="1.4" dy="2.7">customers</tspan><tspan x="1.4" dy="2.7">during the</tspan><tspan x="1.4" dy="2.7">works</tspan></text><path class="k" d="M5,8 7.5,11 16,3"/></g>
<g transform="translate(971,331)"><rect class="s" x=".9" y=".9" width="19" height="9" rx="1.5"/><rect class="b" width="19" height="9" rx="1.5"/><text class="t"><tspan x="1.4" y="3">Work can be</tspan><tspan x="1.4" dy="2.7">phased by</tspan><tspan x="1.4" dy="2.7">block</tspan></text></g>
<g transform="translate(968,351)"><rect class="s" x=".9" y=".9" width="19" height="14" rx="1.5"/><rect class="b" width="19" height="14" rx="1.5"/><text class="t"><tspan x="1.4" y="3">Phasing adds</tspan><tspan x="1.4" dy="2.7">time and</tspan><tspan x="1.4" dy="2.7">cost to the</tspan><tspan x="1.4" dy="2.7">project</tspan></text></g>
<g transform="translate(965,373)"><rect class="s" x=".9" y=".9" width="19" height="22" rx="1.5"/><rect class="b" width="19" height="22" rx="1.5"/><text class="t"><tspan x="1.4" y="3">The added</tspan><tspan x="1.4" dy="2.7">cost is small</tspan><tspan x="1.4" dy="2.7">compared</tspan><tspan x="1.4" dy="2.7">with the</tspan><tspan x="1.4" dy="2.7">losses it</tspan><tspan x="1.4" dy="2.7">prevents for</tspan><tspan x="1.4" dy="2.7">shops</tspan></text><path class="k" d="M5,13 8,18 16,5"/></g>
</g>

<!-- ===== LEAF SOURCES ===== -->
<g>
<g transform="translate(21,330)"><rect class="ic" x="-1.7" y="0" width="3.4" height="3.4"/><text class="lt"><tspan x="0" y="5.6">Web</tspan><tspan x="0" dy="2.5">Transit Authority annual report</tspan><tspan x="0" dy="2.5">2022, ridership and travel time</tspan><tspan x="0" dy="2.5">statistics for the metro region</tspan><tspan x="0" dy="2.5">accessed online March 2023</tspan></text></g>
<g transform="translate(70,330)"><rect class="ic" x="-1.7" y="0" width="3.4" height="3.4"/><text class="lt"><tspan x="0" y="5.6">Data</tspan><tspan x="0" dy="2.5">National household travel survey: average commute durations by mode</tspan><tspan x="0" dy="2.5">and distance, comparing bus, rail and private car for urban areas</tspan></text></g>
<g transform="translate(110,330)"><rect class="ic" x="-1.7" y="0" width="3.4" height="3.4"/><text class="lt"><tspan x="0" y="5.6">Web</tspan><tspan x="0" dy="2.5">Fare tables</tspan><tspan x="0" dy="2.5">published by</tspan><tspan x="0" dy="2.5">the operator</tspan><tspan x="0" dy="2.5">for 2023</tspan><tspan x="0" dy="2.5" class="ln">fares.example</tspan></text></g>
<g transform="translate(233,350)"><rect class="ic" x="-1.7" y="0" width="3.4" height="3.4"/><text class="lt"><tspan x="0" y="5.6">Report</tspan><tspan x="0" dy="2.5">City budget review</tspan><tspan x="0" dy="2.5">shows a deficit in</tspan><tspan x="0" dy="2.5">the transport and</tspan><tspan x="0" dy="2.5">roads department</tspan></text></g>
<g transform="translate(24,418)"><rect class="ic" x="-1.7" y="0" width="3.4" height="3.4"/><text class="lt"><tspan x="0" y="5.6">Data</tspan><tspan x="0" dy="2.5">Federal grant programme guidelines, 2023</tspan><tspan x="0" dy="2.5">eligibility rules and funding schedules</tspan></text></g>
<g transform="translate(75,422)"><rect class="ic" x="-1.7" y="0" width="3.4" height="3.4"/><text class="lt"><tspan x="0" y="5.6">Web</tspan><tspan x="0" dy="2.5">Department of Transportation notice on local matching</tspan><tspan x="0" dy="2.5">fund requirements for capital investment grants</tspan></text></g>
<g transform="translate(121,422)"><rect class="ic" x="-1.7" y="0" width="3.4" height="3.4"/><text class="lt"><tspan x="0" y="5.6">Web</tspan><tspan x="0" dy="2.5">Analysis of project delays</tspan><tspan x="0" dy="2.5">and their cost impacts on</tspan><tspan x="0" dy="2.5">large transit construction</tspan><tspan x="0" dy="2.5">programmes since 2000</tspan></text></g>
<g transform="translate(150,403)"><rect class="ic" x="-1.7" y="0" width="3.4" height="3.4"/><text class="lt"><tspan x="0" y="5.6">Study</tspan><tspan x="0" dy="2.5">Revenue data</tspan><tspan x="0" dy="2.5">from peer</tspan><tspan x="0" dy="2.5">systems over</tspan><tspan x="0" dy="2.5">a ten-year</tspan><tspan x="0" dy="2.5">period in</tspan><tspan x="0" dy="2.5">the region</tspan></text></g>
<g transform="translate(173,403)"><rect class="ic" x="-1.7" y="0" width="3.4" height="3.4"/><text class="lt"><tspan x="0" y="5.6">The Authority</tspan><tspan x="0" dy="2.5">Electric fleet</tspan><tspan x="0" dy="2.5">operating cost</tspan><tspan x="0" dy="2.5">comparison with</tspan><tspan x="0" dy="2.5">diesel vehicles</tspan><tspan x="0" dy="2.5">published by the</tspan><tspan x="0" dy="2.5">energy agency</tspan></text></g>
<g transform="translate(223,422)"><rect class="ic" x="-1.7" y="0" width="3.4" height="3.4"/><text class="lt"><tspan x="0" y="5.6">Web</tspan><tspan x="0" dy="2.5">Media industry forecast showing declining outdoor advertising revenue</tspan><tspan x="0" dy="2.5">for transit shelters, stations and vehicles over the last five years</tspan></text></g>
<g transform="translate(280,331)"><rect class="ic" x="-1.7" y="0" width="3.4" height="3.4"/><text class="lt"><tspan x="0" y="5.6">Web</tspan><tspan x="0" dy="2.5">Traffic congestion index for major cities, 2022 edition, with</tspan><tspan x="0" dy="2.5">comparisons of hours lost per driver and peak delay levels</tspan><tspan x="0" dy="2.5">in the metropolitan area</tspan></text></g>
<g transform="translate(325,331)"><rect class="ic" x="-1.7" y="0" width="3.4" height="3.4"/><text class="lt"><tspan x="0" y="5.6">Study</tspan><tspan x="0" dy="2.5">Air quality</tspan><tspan x="0" dy="2.5">monitoring</tspan><tspan x="0" dy="2.5">data near</tspan><tspan x="0" dy="2.5">main roads</tspan><tspan x="0" dy="2.5">2015-2022</tspan></text></g>
<g transform="translate(381,350)"><rect class="ic" x="-1.7" y="0" width="3.4" height="3.4"/><text class="lt"><tspan x="0" y="5.6">Report</tspan><tspan x="0" dy="2.5">Construction</tspan><tspan x="0" dy="2.5">emissions</tspan></text></g>
<g transform="translate(358,423)"><rect class="ic" x="-1.7" y="0" width="3.4" height="3.4"/><text class="lt"><tspan x="0" y="5.6">Data</tspan><tspan x="0" dy="2.5">Mode shift surveys from comparable mid-sized cities after new</tspan><tspan x="0" dy="2.5">rail lines opened, including before and after travel diaries</tspan></text></g>
<g transform="translate(402,423)"><rect class="ic" x="-1.7" y="0" width="3.4" height="3.4"/><text class="lt"><tspan x="0" y="5.6">Web</tspan><tspan x="0" dy="2.5">Ridership</tspan><tspan x="0" dy="2.5">trend data</tspan><tspan x="0" dy="2.5">2010-2022</tspan><tspan x="0" dy="2.5">by line</tspan></text></g>
<g transform="translate(281,476)"><rect class="ic" x="-1.7" y="0" width="3.4" height="3.4"/><text class="lt"><tspan x="0" y="5.6">Study</tspan><tspan x="0" dy="2.5">Longitudinal study</tspan><tspan x="0" dy="2.5">of commuter choices</tspan><tspan x="0" dy="2.5">before and after a</tspan><tspan x="0" dy="2.5">new line opened in</tspan><tspan x="0" dy="2.5">three cities</tspan></text></g>
<g transform="translate(306,476)"><rect class="ic" x="-1.7" y="0" width="3.4" height="3.4"/><text class="lt"><tspan x="0" y="5.6">Report</tspan><tspan x="0" dy="2.5">Ridership</tspan><tspan x="0" dy="2.5">forecasts vs</tspan><tspan x="0" dy="2.5">actual use</tspan><tspan x="0" dy="2.5">review</tspan></text></g>
<g transform="translate(329,476)"><rect class="ic" x="-1.7" y="0" width="3.4" height="3.4"/><text class="lt"><tspan x="0" y="5.6">Report</tspan><tspan x="0" dy="2.5">Intention-</tspan><tspan x="0" dy="2.5">behaviour</tspan><tspan x="0" dy="2.5">gap in</tspan><tspan x="0" dy="2.5">transport</tspan></text></g>
<g transform="translate(423,332)"><rect class="ic" x="-1.7" y="0" width="3.4" height="3.4"/><text class="lt"><tspan x="0" y="5.6">Web</tspan><tspan x="0" dy="2.5">Job accessibility analysis: number of jobs</tspan><tspan x="0" dy="2.5">reachable within 45 minutes by transit</tspan><tspan x="0" dy="2.5">for each neighbourhood</tspan></text></g>
<g transform="translate(444,386)"><rect class="ic" x="-1.7" y="0" width="3.4" height="3.4"/><text class="lt"><tspan x="0" y="5.6">Web</tspan><tspan x="0" dy="2.5">Draft network map published for public consultation, showing</tspan><tspan x="0" dy="2.5">proposed stations, route alignments and service areas for</tspan><tspan x="0" dy="2.5">the first phase</tspan></text></g>
<g transform="translate(450,413)"><rect class="ic" x="-1.7" y="0" width="3.4" height="3.4"/><text class="lt"><tspan x="0" y="5.6">Data</tspan><tspan x="0" dy="2.5">Council meeting minutes noting that the route map may</tspan><tspan x="0" dy="2.5">change after consultation and environmental review, with</tspan><tspan x="0" dy="2.5">final approval expected next year</tspan></text></g>
<g transform="translate(508,413)"><rect class="ic" x="-1.7" y="0" width="3.4" height="3.4"/><text class="lt"><tspan x="0" y="5.6">Data</tspan><tspan x="0" dy="2.5">Service frequency tables for</tspan><tspan x="0" dy="2.5">weekday evenings and nights</tspan><tspan x="0" dy="2.5">by route, showing lower levels</tspan><tspan x="0" dy="2.5">in outer districts and suburbs</tspan><tspan x="0" dy="2.5">compared with the centre</tspan></text></g>
<g transform="translate(571,437)"><rect class="ic" x="-1.7" y="0" width="3.4" height="3.4"/><text class="lt"><tspan x="0" y="5.6">Feeder plan</tspan><tspan x="0" dy="2.5">Bus network redesign proposal linking every planned station to local</tspan><tspan x="0" dy="2.5">streets with feeder routes running at least every fifteen minutes</tspan><tspan x="0" dy="2.5">during the day</tspan></text></g>
<g transform="translate(733,331)"><rect class="ic" x="-1.7" y="0" width="3.4" height="3.4"/><text class="lt"><tspan x="0" y="5.6">Study</tspan><tspan x="0" dy="2.5">Megaproject</tspan><tspan x="0" dy="2.5">cost overrun</tspan><tspan x="0" dy="2.5">database</tspan><tspan x="0" dy="2.5">global</tspan></text></g>
<g transform="translate(698,361)"><rect class="ic" x="-1.7" y="0" width="3.4" height="3.4"/><text class="lt"><tspan x="0" y="5.6">Report</tspan><tspan x="0" dy="2.5">Audit office</tspan><tspan x="0" dy="2.5">procedures</tspan><tspan x="0" dy="2.5">for capital</tspan><tspan x="0" dy="2.5">projects</tspan><tspan x="0" dy="2.5">2021</tspan></text></g>
<g transform="translate(720,361)"><rect class="ic" x="-1.7" y="0" width="3.4" height="3.4"/><text class="lt"><tspan x="0" y="5.6">Data</tspan><tspan x="0" dy="2.5">Budget line</tspan><tspan x="0" dy="2.5">items for</tspan><tspan x="0" dy="2.5">contingency</tspan><tspan x="0" dy="2.5">reserves</tspan></text></g>
<g transform="translate(618,391)"><rect class="ic" x="-1.7" y="0" width="3.4" height="3.4"/><text class="lt"><tspan x="0" y="5.6">Report</tspan><tspan x="0" dy="2.5">Analysis of bid pricing for fixed-price</tspan><tspan x="0" dy="2.5">infrastructure contracts and the risk</tspan><tspan x="0" dy="2.5">premiums charged by contractors</tspan></text></g>
<g transform="translate(660,391)"><rect class="ic" x="-1.7" y="0" width="3.4" height="3.4"/><text class="lt"><tspan x="0" y="5.6">Fin. Analysis</tspan><tspan x="0" dy="2.5">Case studies</tspan><tspan x="0" dy="2.5">of change</tspan><tspan x="0" dy="2.5">orders in</tspan><tspan x="0" dy="2.5">public works</tspan><tspan x="0" dy="2.5">contracts</tspan><tspan x="0" dy="2.5">and claims</tspan></text></g>
<g transform="translate(681,391)"><rect class="ic" x="-1.7" y="0" width="3.4" height="3.4"/><text class="lt"><tspan x="0" y="5.6">Fin. Analysis</tspan><tspan x="0" dy="2.5">Market review</tspan><tspan x="0" dy="2.5">of firms able</tspan><tspan x="0" dy="2.5">to deliver</tspan><tspan x="0" dy="2.5">large rail</tspan><tspan x="0" dy="2.5">projects in</tspan><tspan x="0" dy="2.5">the country</tspan><tspan x="0" dy="2.5">today</tspan></text></g>
<g transform="translate(858,331)"><rect class="ic" x="-1.7" y="0" width="3.4" height="3.4"/><text class="lt"><tspan x="0" y="5.6">Report</tspan><tspan x="0" dy="2.5">Bus rapid transit</tspan><tspan x="0" dy="2.5">delivery times</tspan></text></g>
<g transform="translate(883,331)"><rect class="ic" x="-1.7" y="0" width="3.4" height="3.4"/><text class="lt"><tspan x="0" y="5.6">Web</tspan><tspan x="0" dy="2.5">Fleet</tspan><tspan x="0" dy="2.5">procurement</tspan><tspan x="0" dy="2.5">schedule</tspan><tspan x="0" dy="2.5">2024</tspan></text></g>
<g transform="translate(747,361)"><rect class="ic" x="-1.7" y="0" width="3.4" height="3.4"/><text class="lt"><tspan x="0" y="5.6">Web</tspan><tspan x="0" dy="2.5">Bus speeds</tspan><tspan x="0" dy="2.5">in mixed</tspan><tspan x="0" dy="2.5">traffic at</tspan><tspan x="0" dy="2.5">peak hours</tspan></text></g>
<g transform="translate(868,361)"><rect class="ic" x="-1.7" y="0" width="3.4" height="3.4"/><text class="lt"><tspan x="0" y="5.6">Web</tspan><tspan x="0" dy="2.5">Road maintenance costs attributed to</tspan><tspan x="0" dy="2.5">heavy vehicles, state highway data</tspan></text></g>
<g transform="translate(782,386)"><rect class="ic" x="-1.7" y="0" width="3.4" height="3.4"/><text class="lt"><tspan x="0" y="5.6">Data</tspan><tspan x="0" dy="2.5">Regional demand model outputs for the</tspan><tspan x="0" dy="2.5">main corridors, base year projections</tspan></text></g>
<g transform="translate(736,413)"><rect class="ic" x="-1.7" y="0" width="3.4" height="3.4"/><text class="lt"><tspan x="0" y="5.6">Web</tspan><tspan x="0" dy="2.5">Automatic passenger counter data from 2022 on the ten busiest corridors, showing</tspan><tspan x="0" dy="2.5">average loads above seated capacity at peak times on weekdays through the year</tspan><tspan x="0" dy="2.5">and on many weekends</tspan></text></g>
<g transform="translate(821,413)"><rect class="ic" x="-1.7" y="0" width="3.4" height="3.4"/><text class="lt"><tspan x="0" y="5.6">Web</tspan><tspan x="0" dy="2.5">Census bureau population estimates and projections for the metropolitan area, with</tspan><tspan x="0" dy="2.5">growth rates by county and the expected number of new households by 2040 in total</tspan><tspan x="0" dy="2.5">across the region</tspan></text></g>
<g transform="translate(904,413)"><rect class="ic" x="-1.7" y="0" width="3.4" height="3.4"/><text class="lt"><tspan x="0" y="5.6">Study</tspan><tspan x="0" dy="2.5">Passenger complaints log summarising reports of full</tspan><tspan x="0" dy="2.5">buses passing stops without picking up riders on the</tspan><tspan x="0" dy="2.5">busiest routes during morning and evening peaks in</tspan><tspan x="0" dy="2.5">the last twelve months</tspan></text></g>
<g transform="translate(952,413)"><rect class="ic" x="-1.7" y="0" width="3.4" height="3.4"/><text class="lt"><tspan x="0" y="5.6">Study</tspan><tspan x="0" dy="2.5">Operator</tspan><tspan x="0" dy="2.5">performance</tspan><tspan x="0" dy="2.5">review with</tspan><tspan x="0" dy="2.5">detailed</tspan><tspan x="0" dy="2.5">load factor</tspan><tspan x="0" dy="2.5">figures for</tspan><tspan x="0" dy="2.5">each route</tspan><tspan x="0" dy="2.5">and time</tspan><tspan x="0" dy="2.5">period,</tspan><tspan x="0" dy="2.5">including</tspan><tspan x="0" dy="2.5">the number</tspan><tspan x="0" dy="2.5">of trips</tspan><tspan x="0" dy="2.5">operating</tspan><tspan x="0" dy="2.5">over crush</tspan><tspan x="0" dy="2.5">capacity</tspan><tspan x="0" dy="2.5">each week</tspan><tspan x="0" dy="2.5">last year</tspan><tspan x="0" dy="2.5">overall</tspan></text></g>
<g transform="translate(1011,331)"><rect class="ic" x="-1.7" y="0" width="3.4" height="3.4"/><text class="lt"><tspan x="0" y="5.6">Report</tspan><tspan x="0" dy="2.5">Chamber of</tspan><tspan x="0" dy="2.5">commerce</tspan><tspan x="0" dy="2.5">survey of</tspan><tspan x="0" dy="2.5">retailers near</tspan><tspan x="0" dy="2.5">past works</tspan></text></g>
<g transform="translate(975,404)"><rect class="ic" x="-1.7" y="0" width="3.4" height="3.4"/><text class="lt"><tspan x="0" y="5.6">Report</tspan><tspan x="0" dy="2.5">Economic</tspan><tspan x="0" dy="2.5">impact study</tspan><tspan x="0" dy="2.5">comparing</tspan><tspan x="0" dy="2.5">phased and</tspan><tspan x="0" dy="2.5">full closure</tspan><tspan x="0" dy="2.5">construction</tspan><tspan x="0" dy="2.5">approaches</tspan><tspan x="0" dy="2.5">for local</tspan><tspan x="0" dy="2.5">business</tspan></text></g>
</g>
</svg>
</body></html>
